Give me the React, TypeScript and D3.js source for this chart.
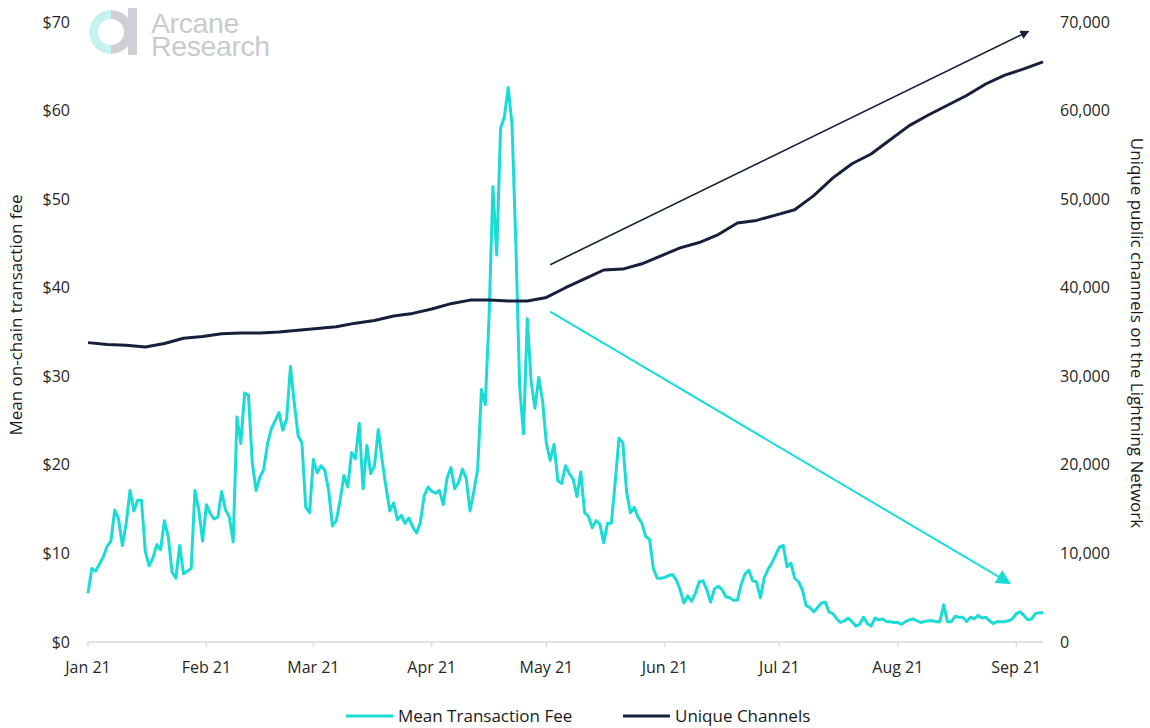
import * as d3 from "d3";
import { useEffect, useRef } from "react";

const START = new Date(2021, 0, 1);

// mean on-chain transaction fee (USD), one value per day from 1 Jan 2021
const feeUsd = [
  5.5, 8.3, 8.0, 8.8, 9.6, 10.8, 11.4, 14.9, 13.9, 10.9,
  13.4, 17.1, 14.8, 16.0, 16.0, 10.2, 8.6, 9.5, 11.0, 10.4,
  13.7, 11.9, 7.9, 7.2, 10.9, 7.7, 8.0, 8.3, 17.1, 14.9,
  11.4, 15.5, 14.5, 13.9, 14.1, 17.0, 14.9, 14.1, 11.3, 25.4,
  22.4, 28.1, 27.9, 20.3, 17.1, 18.6, 19.5, 22.4, 24.1, 25.0,
  25.9, 23.9, 25.2, 31.1, 27.0, 23.3, 22.5, 15.2, 14.6, 20.6,
  19.1, 19.9, 19.4, 17.1, 13.1, 13.7, 16.0, 18.8, 17.5, 21.4,
  20.7, 24.7, 17.3, 22.2, 19.0, 19.9, 24.0, 20.5, 17.5, 14.8,
  15.7, 13.8, 14.3, 13.4, 14.0, 13.0, 12.3, 13.5, 16.5, 17.5,
  17.0, 16.8, 17.1, 15.5, 18.5, 19.7, 17.3, 18.0, 19.5, 18.5,
  14.8, 17.0, 19.5, 28.5, 26.8, 36.9, 51.4, 43.7, 58.0, 59.3,
  62.6, 58.4, 45.0, 28.8, 23.5, 36.5, 29.4, 26.4, 29.9, 27.2,
  22.4, 20.5, 22.3, 18.2, 17.9, 19.9, 19.0, 18.4, 16.4, 19.2,
  14.6, 14.2, 12.9, 13.7, 13.3, 11.2, 13.4, 13.4, 18.0, 23.0,
  22.5, 16.9, 14.6, 15.2, 14.1, 13.4, 11.9, 11.6, 8.3, 7.2,
  7.2, 7.3, 7.5, 7.6, 7.0, 5.9, 4.4, 5.2, 4.6, 5.5,
  6.8, 6.9, 5.9, 4.5, 6.0, 6.3, 5.9, 5.1, 5.0, 4.7,
  4.7, 6.5, 7.7, 8.1, 6.9, 6.8, 5.0, 7.2, 8.2, 8.9,
  9.8, 10.7, 10.9, 8.5, 8.9, 7.2, 6.8, 5.9, 4.1, 3.9,
  3.4, 3.9, 4.4, 4.5, 3.4, 3.2, 2.6, 2.2, 2.4, 2.7,
  2.3, 1.8, 2.0, 2.8, 2.1, 1.8, 2.7, 2.5, 2.6, 2.3,
  2.3, 2.2, 2.2, 2.0, 2.3, 2.5, 2.6, 2.4, 2.2, 2.3,
  2.4, 2.4, 2.3, 2.3, 4.2, 2.3, 2.3, 2.9, 2.8, 2.8,
  2.3, 2.8, 2.6, 3.0, 2.7, 2.8, 2.4, 2.1, 2.3, 2.3,
  2.3, 2.4, 2.6, 3.2, 3.4, 3.0, 2.5, 2.6, 3.2, 3.3,
  3.3,
];

// unique public channels, one reading every 5 days from 1 Jan 2021
const channelStep = 5;
const channels = [
  33800, 33600, 33500, 33300, 33700, 34300, 34500, 34800, 34900, 34900,
  35000, 35200, 35400, 35600, 36000, 36300, 36800, 37100, 37600, 38200,
  38600, 38600, 38500, 38500, 38900, 40000, 41000, 42000, 42100, 42700,
  43600, 44500, 45100, 46000, 47300, 47600, 48200, 48800, 50400, 52400,
  54000, 55100, 56700, 58300, 59500, 60600, 61700, 63000, 64000, 64700,
  65500,
];

const monthTicks = [
  "2021-01-01", "2021-02-01", "2021-03-01", "2021-04-01", "2021-05-01",
  "2021-06-01", "2021-07-01", "2021-08-01", "2021-09-01",
];
const feeTicks = [0, 10, 20, 30, 40, 50, 60, 70];
const channelTicks = [0, 10000, 20000, 30000, 40000, 50000, 60000, 70000];

// trend arrows as [day offset, value] in each axis' units
const channelArrow: [number, number][] = [[121, 42600], [246, 68900]];
const feeArrow: [number, number][] = [[121, 37.3], [241, 6.7]];

const CYAN = "#1adcd5";
const NAVY = "#16203a";
const FONT = "'Open Sans', 'Noto Sans', sans-serif";

export default function App() {
  const ref = useRef<SVGSVGElement | null>(null);

  useEffect(() => {
    const el = ref.current;
    if (!el) return;
    const svg = d3.select(el);
    svg.selectAll("*").remove();

    const W = 1150;
    const H = 728;
    const margin = { top: 22, right: 107, bottom: 86, left: 88 };
    const iw = W - margin.left - margin.right;
    const ih = H - margin.top - margin.bottom;

    const day = (i: number) => d3.timeDay.offset(START, i);
    const x = d3
      .scaleTime()
      .domain([START, day(feeUsd.length - 1)])
      .range([0, iw]);
    const yFee = d3.scaleLinear().domain([0, 70]).range([ih, 0]);
    const yCh = d3.scaleLinear().domain([0, 70000]).range([ih, 0]);

    svg.attr("viewBox", `0 0 ${W} ${H}`).attr("width", W).attr("height", H);

    const defs = svg.append("defs");
    defs
      .append("marker")
      .attr("id", "headNavy")
      .attr("viewBox", "0 0 10 10")
      .attr("refX", 8)
      .attr("refY", 5)
      .attr("markerWidth", 9)
      .attr("markerHeight", 9)
      .attr("markerUnits", "userSpaceOnUse")
      .attr("orient", "auto")
      .append("path")
      .attr("d", "M0,0 L10,5 L0,10 Z")
      .attr("fill", NAVY);
    defs
      .append("marker")
      .attr("id", "headCyan")
      .attr("viewBox", "0 0 10 10")
      .attr("refX", 8)
      .attr("refY", 5)
      .attr("markerWidth", 15)
      .attr("markerHeight", 15)
      .attr("markerUnits", "userSpaceOnUse")
      .attr("orient", "auto")
      .append("path")
      .attr("d", "M0,0 L10,5 L0,10 Z")
      .attr("fill", CYAN);

    // logo
    const logo = svg.append("g").attr("transform", "translate(111,32)");
    const arc = d3.arc<any>().innerRadius(13).outerRadius(22);
    logo
      .append("path")
      .attr("d", arc({ startAngle: Math.PI, endAngle: 2 * Math.PI }) as string)
      .attr("fill", "#c8f2f0");
    logo
      .append("path")
      .attr("d", arc({ startAngle: 0, endAngle: Math.PI }) as string)
      .attr("fill", "#cfd0d5");
    logo
      .append("rect")
      .attr("x", 17)
      .attr("y", -24)
      .attr("width", 9)
      .attr("height", 47)
      .attr("fill", "#cfd0d5");
    const logoText = svg
      .append("text")
      .attr("font-family", "'Liberation Sans', Arial, sans-serif")
      .attr("font-size", 28.5)
      .attr("fill", "#c9cacf")
      .attr("letter-spacing", -0.4);
    logoText.append("tspan").attr("x", 151).attr("y", 33).text("Arcane");
    logoText.append("tspan").attr("x", 151).attr("y", 56).text("Research");

    const g = svg
      .append("g")
      .attr("transform", `translate(${margin.left},${margin.top})`);

    // x axis
    g.append("line")
      .attr("x1", 0)
      .attr("x2", iw)
      .attr("y1", ih)
      .attr("y2", ih)
      .attr("stroke", "#d9d9d9")
      .attr("stroke-width", 1.3);
    const months = monthTicks.map((s) => d3.timeParse("%Y-%m-%d")(s) as Date);
    const fmt = d3.timeFormat("%b %y");
    g.selectAll("line.tick")
      .data(months)
      .join("line")
      .attr("class", "tick")
      .attr("x1", (d) => x(d))
      .attr("x2", (d) => x(d))
      .attr("y1", ih)
      .attr("y2", ih + 5)
      .attr("stroke", "#d9d9d9")
      .attr("stroke-width", 1.3);
    g.selectAll("text.xl")
      .data(months)
      .join("text")
      .attr("class", "xl")
      .attr("x", (d) => x(d))
      .attr("y", ih + 31)
      .attr("text-anchor", "middle")
      .attr("font-family", FONT)
      .attr("font-size", 16)
      .attr("fill", "#262626")
      .text((d) => fmt(d));

    // left axis labels
    g.selectAll("text.yl")
      .data(feeTicks)
      .join("text")
      .attr("class", "yl")
      .attr("x", -18)
      .attr("y", (d) => yFee(d))
      .attr("dy", "0.35em")
      .attr("text-anchor", "end")
      .attr("font-family", FONT)
      .attr("font-size", 16)
      .attr("fill", "#262626")
      .text((d) => `$${d}`);

    // right axis labels
    const cfmt = d3.format(",");
    g.selectAll("text.yr")
      .data(channelTicks)
      .join("text")
      .attr("class", "yr")
      .attr("x", iw + 17)
      .attr("y", (d) => yCh(d))
      .attr("dy", "0.35em")
      .attr("font-family", FONT)
      .attr("font-size", 16)
      .attr("fill", "#262626")
      .text((d) => cfmt(d));

    // axis titles
    svg
      .append("text")
      .attr("transform", `translate(22,315) rotate(-90)`)
      .attr("text-anchor", "middle")
      .attr("font-family", FONT)
      .attr("font-size", 17)
      .attr("fill", "#1a1a1a")
      .text("Mean on-chain transaction fee");
    svg
      .append("text")
      .attr("transform", `translate(1131,333) rotate(90)`)
      .attr("text-anchor", "middle")
      .attr("font-family", FONT)
      .attr("font-size", 17)
      .attr("fill", "#1a1a1a")
      .text("Unique public channels on the Lightning Network");

    // series
    const feeLine = d3
      .line<number>()
      .x((_, i) => x(day(i)))
      .y((d) => yFee(d));
    const chLine = d3
      .line<number>()
      .x((_, i) => x(day(i * channelStep)))
      .y((d) => yCh(d));

    g.append("path")
      .attr("d", feeLine(feeUsd))
      .attr("fill", "none")
      .attr("stroke", CYAN)
      .attr("stroke-width", 3)
      .attr("stroke-linejoin", "round");
    g.append("path")
      .attr("d", chLine(channels))
      .attr("fill", "none")
      .attr("stroke", NAVY)
      .attr("stroke-width", 3)
      .attr("stroke-linejoin", "round");

    // trend arrows
    g.append("line")
      .attr("x1", x(day(channelArrow[0][0])))
      .attr("y1", yCh(channelArrow[0][1]))
      .attr("x2", x(day(channelArrow[1][0])))
      .attr("y2", yCh(channelArrow[1][1]))
      .attr("stroke", NAVY)
      .attr("stroke-width", 1.6)
      .attr("marker-end", "url(#headNavy)");
    g.append("line")
      .attr("x1", x(day(feeArrow[0][0])))
      .attr("y1", yFee(feeArrow[0][1]))
      .attr("x2", x(day(feeArrow[1][0])))
      .attr("y2", yFee(feeArrow[1][1]))
      .attr("stroke", CYAN)
      .attr("stroke-width", 2)
      .attr("marker-end", "url(#headCyan)");

    // legend
    const legend = svg.append("g").attr("transform", "translate(0,716)");
    const items = [
      { label: "Mean Transaction Fee", color: CYAN, x: 346 },
      { label: "Unique Channels", color: NAVY, x: 623 },
    ];
    items.forEach((it) => {
      legend
        .append("line")
        .attr("x1", it.x)
        .attr("x2", it.x + 47)
        .attr("y1", 0)
        .attr("y2", 0)
        .attr("stroke", it.color)
        .attr("stroke-width", 3);
      legend
        .append("text")
        .attr("x", it.x + 52)
        .attr("y", 0)
        .attr("dy", "0.35em")
        .attr("font-family", FONT)
        .attr("font-size", 17)
        .attr("fill", "#1a1a1a")
        .text(it.label);
    });
  }, []);

  return (
    <svg
      ref={ref}
      style={{ position: "absolute", left: 0, top: 0, display: "block" }}
    />
  );
}
